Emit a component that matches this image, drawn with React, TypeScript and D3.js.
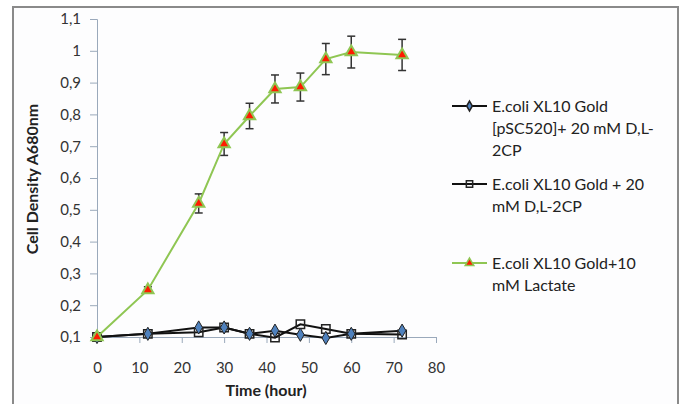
import React, { useEffect, useRef } from "react";
import * as d3 from "d3";

// hours of sampling
const hours = [0, 12, 24, 30, 36, 42, 48, 54, 60, 72];
// E.coli XL10 Gold [pSC520] + 20 mM D,L-2CP
const plasmidValues = [0.1, 0.11, 0.13, 0.13, 0.11, 0.12, 0.107, 0.097, 0.11, 0.12];
// E.coli XL10 Gold + 20 mM D,L-2CP
const controlValues = [0.1, 0.11, 0.115, 0.13, 0.11, 0.098, 0.14, 0.125, 0.11, 0.108];
// E.coli XL10 Gold + 10 mM Lactate
const lactateValues = [0.1, 0.248, 0.52, 0.707, 0.795, 0.88, 0.886, 0.974, 0.996, 0.987];
const lactateErrors = [0, 0.01, 0.03, 0.036, 0.04, 0.044, 0.044, 0.049, 0.05, 0.049];

const xTicks = [0, 10, 20, 30, 40, 50, 60, 70, 80];
const yTicks = [0.1, 0.2, 0.3, 0.4, 0.5, 0.6, 0.7, 0.8, 0.9, 1, 1.1];

const legendLabels = [
  ["E.coli XL10 Gold", "[pSC520]+ 20 mM D,L-", "2CP"],
  ["E.coli XL10 Gold + 20", "mM D,L-2CP"],
  ["E.coli XL10 Gold+10", "mM Lactate"],
];

const FONT = "Lato, 'Open Sans', sans-serif";
const GREEN = "#8fc653";

const fmt = (v: number) => String(Math.round(v * 10) / 10).replace(".", ",");

const App = () => {
  const ref = useRef<SVGSVGElement>(null);

  useEffect(() => {
    const svg = d3.select(ref.current);
    svg.selectAll("*").remove();

    const x = d3.scaleLinear().domain([0, 80]).range([97, 436]);
    const y = d3.scaleLinear().domain([0.1, 1.1]).range([337, 19]);

    // outer frame
    svg.append("rect")
      .attr("x", 13).attr("y", 7).attr("width", 665).attr("height", 420)
      .attr("fill", "#fdfdfe").attr("stroke", "#8a8a8a").attr("stroke-width", 2);

    const axisColor = "#9aa9bb";

    const yAxis = svg.append("g")
      .attr("transform", `translate(${x(0)},0)`)
      .call(d3.axisLeft(y).tickValues(yTicks).tickSize(7).tickPadding(9).tickFormat(d => fmt(+d)));
    const xAxis = svg.append("g")
      .attr("transform", `translate(0,${y(0.1)})`)
      .call(d3.axisBottom(x).tickValues(xTicks).tickSize(6).tickPadding(19));
    [yAxis, xAxis].forEach(a => {
      a.select(".domain").attr("stroke", axisColor);
      a.selectAll(".tick line").attr("stroke", axisColor);
      a.selectAll("text").attr("font-family", FONT).attr("font-size", 15).attr("fill", "#333");
    });

    svg.append("text")
      .attr("x", 266).attr("y", 396)
      .attr("text-anchor", "middle")
      .attr("font-family", FONT).attr("font-size", 16).attr("font-weight", "bold").attr("fill", "#222")
      .text("Time (hour)");
    svg.append("text")
      .attr("transform", "translate(38,179) rotate(-90)")
      .attr("text-anchor", "middle")
      .attr("font-family", FONT).attr("font-size", 16).attr("font-weight", "bold").attr("fill", "#222")
      .text("Cell Density A680nm");

    const line = d3.line<[number, number]>().x(d => x(d[0])).y(d => y(d[1]));
    const pts = (vals: number[]) => hours.map((h, i) => [h, vals[i]] as [number, number]);

    const diamond = d3.symbol().type(d3.symbolDiamond).size(50)();
    const square = d3.symbol().type(d3.symbolSquare).size(70)();
    const triangle = d3.symbol().type(d3.symbolTriangle).size(55)();

    // plasmid series
    svg.append("path").datum(pts(plasmidValues)).attr("d", line)
      .attr("fill", "none").attr("stroke", "#111").attr("stroke-width", 2);
    // control series
    svg.append("path").datum(pts(controlValues)).attr("d", line)
      .attr("fill", "none").attr("stroke", "#111").attr("stroke-width", 2);

    svg.append("g").selectAll("path").data(pts(controlValues)).enter().append("path")
      .attr("d", square)
      .attr("transform", d => `translate(${x(d[0])},${y(d[1])})`)
      .attr("fill", "none").attr("stroke", "#222").attr("stroke-width", 1.5);
    svg.append("g").selectAll("path").data(pts(plasmidValues)).enter().append("path")
      .attr("d", diamond)
      .attr("transform", d => `translate(${x(d[0])},${y(d[1])})`)
      .attr("fill", "#4f81bd").attr("stroke", "#222").attr("stroke-width", 1);

    // lactate series with error bars
    const bars = svg.append("g").selectAll("g").data(hours.map((h, i) => i).filter(i => lactateErrors[i] > 0))
      .enter().append("g").attr("stroke", "#333").attr("stroke-width", 1.5);
    bars.append("line")
      .attr("x1", i => x(hours[i])).attr("x2", i => x(hours[i]))
      .attr("y1", i => y(lactateValues[i] - lactateErrors[i])).attr("y2", i => y(lactateValues[i] + lactateErrors[i]));
    [-1, 1].forEach(s => {
      bars.append("line")
        .attr("x1", i => x(hours[i]) - 4).attr("x2", i => x(hours[i]) + 4)
        .attr("y1", i => y(lactateValues[i] + s * lactateErrors[i]))
        .attr("y2", i => y(lactateValues[i] + s * lactateErrors[i]));
    });

    svg.append("path").datum(pts(lactateValues)).attr("d", line)
      .attr("fill", "none").attr("stroke", GREEN).attr("stroke-width", 2);
    svg.append("g").selectAll("path").data(pts(lactateValues)).enter().append("path")
      .attr("d", triangle)
      .attr("transform", d => `translate(${x(d[0])},${y(d[1])})`)
      .attr("fill", "#ff1a00").attr("stroke", GREEN).attr("stroke-width", 2);

    // legend
    const legendY = [106, 184, 263];
    const legendSymbols = [
      d3.symbol().type(d3.symbolDiamond).size(28)(),
      d3.symbol().type(d3.symbolSquare).size(40)(),
      d3.symbol().type(d3.symbolTriangle).size(32)(),
    ];
    const legendStroke = ["#111", "#111", GREEN];
    const legendFill = ["#4f81bd", "none", "#ff1a00"];
    const legendMarkStroke = ["#222", "#222", GREEN];
    legendLabels.forEach((lines, k) => {
      const g = svg.append("g").attr("transform", `translate(0,${legendY[k]})`);
      g.append("line").attr("x1", 452).attr("x2", 487).attr("y1", 0).attr("y2", 0)
        .attr("stroke", legendStroke[k]).attr("stroke-width", 2);
      g.append("path").attr("d", legendSymbols[k]).attr("transform", "translate(469.5,0)")
        .attr("fill", legendFill[k]).attr("stroke", legendMarkStroke[k]).attr("stroke-width", 1.5);
      lines.forEach((t, j) => {
        g.append("text")
          .attr("x", 492).attr("y", j * 22).attr("dy", "0.35em")
          .attr("font-family", FONT).attr("font-size", 16).attr("fill", "#222")
          .text(t);
      });
    });
  }, []);

  return (
    <svg ref={ref} width={682} height={404}
      style={{ position: "absolute", left: 0, top: 0, background: "#fff" }} />
  );
};

export default App;
